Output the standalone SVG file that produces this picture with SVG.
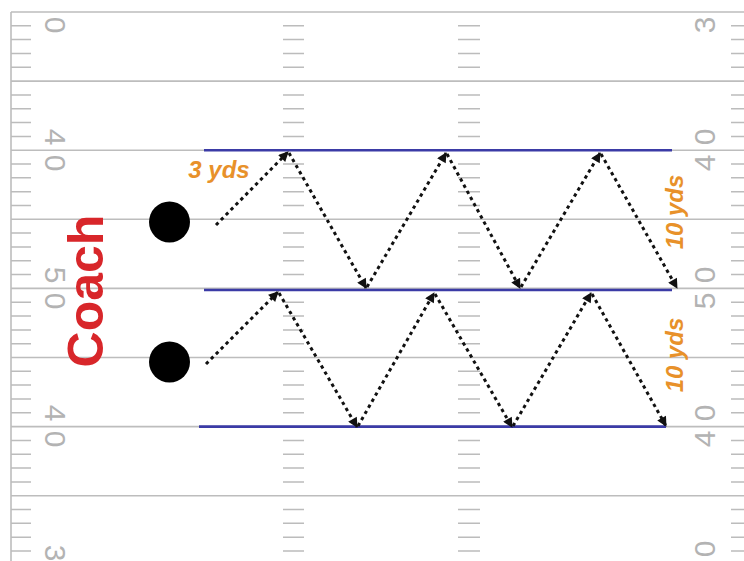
<svg xmlns="http://www.w3.org/2000/svg" width="744" height="561" viewBox="0 0 744 561">
<style>
.yard{stroke:#bdbdbd;stroke-width:1.6;fill:none}
.hash{stroke:#bcbcbc;stroke-width:1.5;fill:none}
.num{font-family:"Liberation Sans",Arial,sans-serif;font-size:30px;fill:#b3b3b3;text-anchor:middle}
.blue{stroke:#3b3ba6;stroke-width:2.6}
.run{stroke:#111;stroke-width:3;stroke-dasharray:3.4 3.6;fill:none;marker-end:url(#ah)}
.yds{font-family:"Liberation Sans",Arial,sans-serif;font-size:24px;font-weight:bold;font-style:italic;fill:#e8912a;text-anchor:middle}
.coach{font-family:"Liberation Sans",Arial,sans-serif;font-size:50px;font-weight:bold;fill:#d8262a;text-anchor:middle}
</style>
<defs>
<marker id="ah" viewBox="0 0 10 10" refX="9" refY="5" markerWidth="11" markerHeight="10" markerUnits="userSpaceOnUse" orient="auto">
<path d="M0,0 L10,5 L0,10 z" fill="#111"/>
</marker>
</defs>
<rect width="744" height="561" fill="#ffffff"/>
<g id="field">
<path class="yard" d="M11 12H744M11 81.1H744M11 150.2H744M11 219.3H744M11 288.4H744M11 357.5H744M11 426.6H744M11 495.7H744M11 12V561"/>
<path class="hash" d="M11 25.8h20M283 25.8h21M458 25.8h22M731 25.8h13
M11 39.6h20M283 39.6h21M458 39.6h22M731 39.6h13
M11 53.5h20M283 53.5h21M458 53.5h22M731 53.5h13
M11 67.3h20M283 67.3h21M458 67.3h22M731 67.3h13
M11 94.9h20M283 94.9h21M458 94.9h22M731 94.9h13
M11 108.7h20M283 108.7h21M458 108.7h22M731 108.7h13
M11 122.6h20M283 122.6h21M458 122.6h22M731 122.6h13
M11 136.4h20M283 136.4h21M458 136.4h22M731 136.4h13
M11 164h20M283 164h21M458 164h22M731 164h13
M11 177.8h20M283 177.8h21M458 177.8h22M731 177.8h13
M11 191.7h20M283 191.7h21M458 191.7h22M731 191.7h13
M11 205.5h20M283 205.5h21M458 205.5h22M731 205.5h13
M11 233.1h20M283 233.1h21M458 233.1h22M731 233.1h13
M11 246.9h20M283 246.9h21M458 246.9h22M731 246.9h13
M11 260.8h20M283 260.8h21M458 260.8h22M731 260.8h13
M11 274.6h20M283 274.6h21M458 274.6h22M731 274.6h13
M11 302.2h20M283 302.2h21M458 302.2h22M731 302.2h13
M11 316h20M283 316h21M458 316h22M731 316h13
M11 329.9h20M283 329.9h21M458 329.9h22M731 329.9h13
M11 343.7h20M283 343.7h21M458 343.7h22M731 343.7h13
M11 371.3h20M283 371.3h21M458 371.3h22M731 371.3h13
M11 385.1h20M283 385.1h21M458 385.1h22M731 385.1h13
M11 399h20M283 399h21M458 399h22M731 399h13
M11 412.8h20M283 412.8h21M458 412.8h22M731 412.8h13
M11 440.4h20M283 440.4h21M458 440.4h22M731 440.4h13
M11 454.2h20M283 454.2h21M458 454.2h22M731 454.2h13
M11 468.1h20M283 468.1h21M458 468.1h22M731 468.1h13
M11 481.9h20M283 481.9h21M458 481.9h22M731 481.9h13
M11 509.5h20M283 509.5h21M458 509.5h22M731 509.5h13
M11 523.3h20M283 523.3h21M458 523.3h22M731 523.3h13
M11 537.2h20M283 537.2h21M458 537.2h22M731 537.2h13
M11 551h20M283 551h21M458 551h22M731 551h13"/>
<g id="numbers-left">
<text class="num" transform="translate(56,25) rotate(90)" dy="0.36em">0</text>
<text class="num" transform="translate(56,137) rotate(90)" dy="0.36em">4</text>
<text class="num" transform="translate(56,163) rotate(90)" dy="0.36em">0</text>
<text class="num" transform="translate(56,275) rotate(90)" dy="0.36em">5</text>
<text class="num" transform="translate(56,301) rotate(90)" dy="0.36em">0</text>
<text class="num" transform="translate(56,413) rotate(90)" dy="0.36em">4</text>
<text class="num" transform="translate(56,439) rotate(90)" dy="0.36em">0</text>
<text class="num" transform="translate(56,553) rotate(90)" dy="0.36em">3</text>
</g>
<g id="numbers-right">
<text class="num" transform="translate(704,25) rotate(-90)" dy="0.36em">3</text>
<text class="num" transform="translate(704,137) rotate(-90)" dy="0.36em">0</text>
<text class="num" transform="translate(704,163) rotate(-90)" dy="0.36em">4</text>
<text class="num" transform="translate(704,275) rotate(-90)" dy="0.36em">0</text>
<text class="num" transform="translate(704,301) rotate(-90)" dy="0.36em">5</text>
<text class="num" transform="translate(704,413) rotate(-90)" dy="0.36em">0</text>
<text class="num" transform="translate(704,439) rotate(-90)" dy="0.36em">4</text>
<text class="num" transform="translate(704,549) rotate(-90)" dy="0.36em">0</text>
</g>
</g>
<g id="cone-lines">
<line class="blue" x1="204" y1="150.2" x2="672" y2="150.2"/>
<line class="blue" x1="204" y1="290" x2="672" y2="290"/>
<line class="blue" x1="199" y1="426.6" x2="666" y2="426.6"/>
</g>
<g id="coach"><text class="coach" transform="translate(103,291) rotate(-90)">Coach</text></g>
<g id="player1"><circle cx="169.5" cy="222" r="20.5" fill="#000"/></g>
<g id="player2"><circle cx="169.5" cy="362" r="20.5" fill="#000"/></g>
<g id="label-3yds"><text class="yds" x="219" y="178">3 yds</text></g>
<g id="label-10yds-top"><text class="yds" transform="translate(683,212) rotate(-90)">10 yds</text></g>
<g id="label-10yds-bottom"><text class="yds" transform="translate(683,355) rotate(-90)">10 yds</text></g>
<g id="connectors">
<line class="run" x1="216" y1="225" x2="288" y2="152"/>
<line class="run" x1="289" y1="153" x2="366" y2="288"/>
<line class="run" x1="367" y1="287" x2="446" y2="153"/>
<line class="run" x1="447" y1="154" x2="520" y2="288"/>
<line class="run" x1="521" y1="287" x2="600" y2="153"/>
<line class="run" x1="601" y1="154" x2="677" y2="288"/>
<line class="run" x1="206" y1="364" x2="278" y2="292"/>
<line class="run" x1="279" y1="293" x2="357" y2="427"/>
<line class="run" x1="358" y1="426" x2="434" y2="293"/>
<line class="run" x1="435" y1="294" x2="512" y2="427"/>
<line class="run" x1="513" y1="426" x2="591" y2="293"/>
<line class="run" x1="592" y1="294" x2="666" y2="426"/>
</g>
</svg>
